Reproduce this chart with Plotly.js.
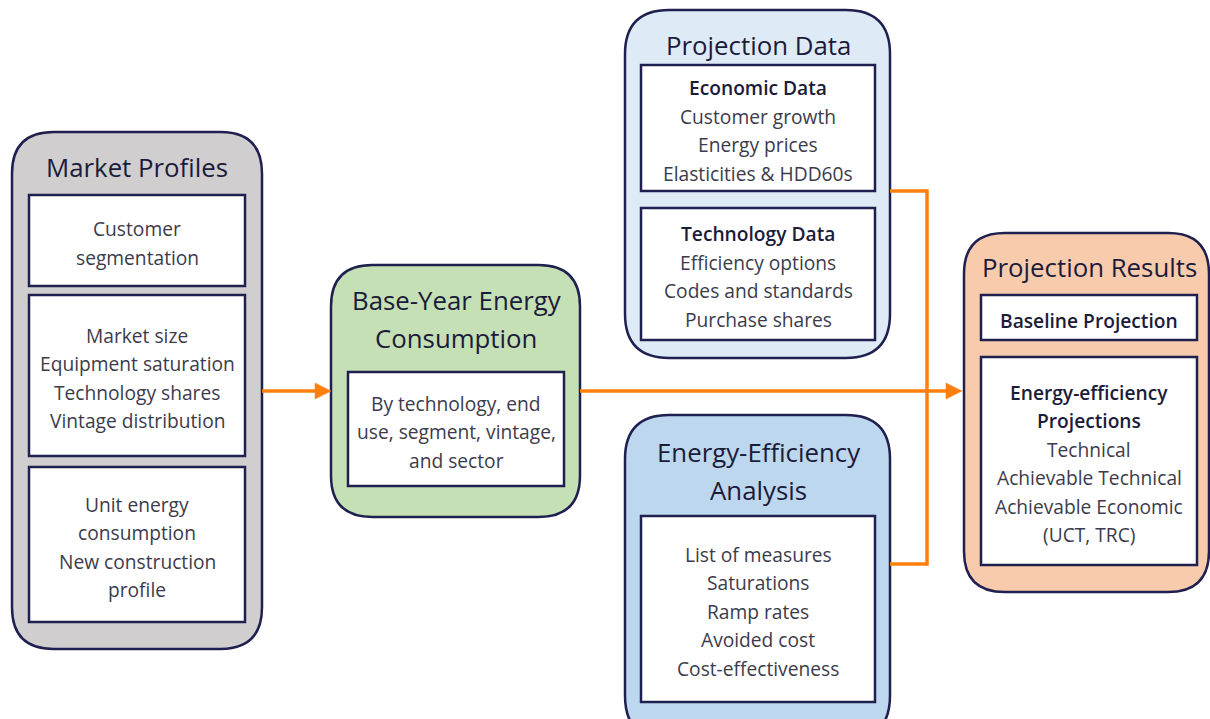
<!DOCTYPE html>
<html>
<head>
<meta charset="utf-8">
<script src="https://cdn.plot.ly/plotly-3.0.1.min.js"></script>
<style>html,body{margin:0;padding:0;background:#fff;}#chart{width:1210px;height:719px;}</style>
</head>
<body>
<div id="chart"></div>
<script>
// ---------- content (text) ----------
const marketTitle = ["Market Profiles"];
const marketItems = [
  ["Customer", "segmentation"],
  ["Market size", "Equipment saturation", "Technology shares", "Vintage distribution"],
  ["Unit energy", "consumption", "New construction", "profile"]
];
const baseTitle = ["Base-Year Energy", "Consumption"];
const baseItems = [["By technology, end", "use, segment, vintage,", "and sector"]];
const projDataTitle = ["Projection Data"];
const projDataHeads = ["Economic Data", "Technology Data"];
const projDataItems = [
  ["Customer growth", "Energy prices", "Elasticities & HDD60s"],
  ["Efficiency options", "Codes and standards", "Purchase shares"]
];
const eeTitle = ["Energy-Efficiency", "Analysis"];
const eeItems = [["List of measures", "Saturations", "Ramp rates", "Avoided cost", "Cost-effectiveness"]];
const resultsTitle = ["Projection Results"];
const resultsHeads = [["Baseline Projection"], ["Energy-efficiency", "Projections"]];
const resultsItems = [[], ["Technical", "Achievable Technical", "Achievable Economic", "(UCT, TRC)"]];

// ---------- styling / geometry ----------
const FONT = "Open Sans, Noto Sans, sans-serif";
const NAVY = "#1f2050";
const TITLE_C = "#1b1b3a";
const BODY_C = "#3b3b4b";
const ORANGE = "#ff7f0e";
const TITLE_SIZE = 25.8;
const BODY_SIZE = 19.2;
const LINE_H = 28.5;
const TITLE_H = 37.5;

const shapes = [];
const annotations = [];

function roundRect(x0, y0, x1, y1, fill) {
  const r = 0.1667 * Math.min(x1 - x0, y1 - y0);
  const p = `M ${x0 + r},${y0} L ${x1 - r},${y0} Q ${x1},${y0} ${x1},${y0 + r} ` +
            `L ${x1},${y1 - r} Q ${x1},${y1} ${x1 - r},${y1} L ${x0 + r},${y1} ` +
            `Q ${x0},${y1} ${x0},${y1 - r} L ${x0},${y0 + r} Q ${x0},${y0} ${x0 + r},${y0} Z`;
  shapes.push({type: "path", xref: "x", yref: "y", path: p, fillcolor: fill,
               line: {color: NAVY, width: 2.5}, layer: "below"});
}
function rect(x0, y0, x1, y1) {
  shapes.push({type: "rect", xref: "x", yref: "y", x0, y0, x1, y1, fillcolor: "#ffffff",
               line: {color: NAVY, width: 2.5}, layer: "below"});
}
function textLine(x, y, t, size, color, weight) {
  annotations.push({x, y, xref: "x", yref: "y", text: t, showarrow: false,
    xanchor: "center", yanchor: "middle",
    font: {family: FONT, size, color, weight: weight || 400}});
}
function titleLines(cx, y0, lines) {
  lines.forEach((t, i) => textLine(cx, y0 + i * TITLE_H, t, TITLE_SIZE, TITLE_C, 400));
}
// lines = array of {t, bold}
function blockLines(cx, cy, lines) {
  const n = lines.length;
  const start = cy - (n - 1) * LINE_H / 2;
  lines.forEach((l, i) => textLine(cx, start + i * LINE_H, l.t, BODY_SIZE,
                                   l.bold ? TITLE_C : BODY_C, l.bold ? 560 : 400));
}
const plain = arr => arr.map(t => ({t, bold: false}));
const heads = arr => arr.map(t => ({t, bold: true}));

// Market Profiles
roundRect(12, 132, 262, 649, "#d0cece");
titleLines(137, 167, marketTitle);
const mpBoxes = [[195, 286], [295, 456], [467, 622]];
mpBoxes.forEach((b, i) => { rect(29, b[0], 245, b[1]); blockLines(137, (b[0] + b[1]) / 2 + 2.5, plain(marketItems[i])); });

// Base-Year
roundRect(331, 265, 580, 517, "#c5e0b4");
titleLines(456, 300, baseTitle);
rect(348, 372, 564, 486);
blockLines(456, 431.5, plain(baseItems[0]));

// Projection Data
roundRect(625, 10, 890, 358, "#deebf7");
titleLines(758, 45, projDataTitle);
const pdBoxes = [[65, 191], [208, 340]];
pdBoxes.forEach((b, i) => { rect(641, b[0], 875, b[1]);
  blockLines(758, (b[0] + b[1]) / 2 + 2.5, heads([projDataHeads[i]]).concat(plain(projDataItems[i]))); });

// Energy-Efficiency Analysis
roundRect(625, 415, 890, 740, "#bdd7ee");
titleLines(758, 452, eeTitle);
rect(641, 516, 875, 702);
blockLines(758, 611, plain(eeItems[0]));

// Projection Results
roundRect(964, 233, 1209, 592, "#f8cbad");
titleLines(1089, 267, resultsTitle);
const prBoxes = [[295, 340], [357, 565]];
prBoxes.forEach((b, i) => { rect(981, b[0], 1197, b[1]);
  blockLines(1089, (b[0] + b[1]) / 2 + 2.5, heads(resultsHeads[i]).concat(plain(resultsItems[i]))); });

// Connectors
function seg(x0, y0, x1, y1) {
  shapes.push({type: "line", xref: "x", yref: "y", x0, y0, x1, y1,
               line: {color: ORANGE, width: 3.5}, layer: "above"});
}
function arrowHead(tipX, y) {
  shapes.push({type: "path", xref: "x", yref: "y",
    path: `M ${tipX},${y} L ${tipX - 16},${y - 8} L ${tipX - 16},${y + 8} Z`,
    fillcolor: ORANGE, line: {color: ORANGE, width: 0.5}, layer: "above"});
}
seg(262, 391, 318, 391); arrowHead(331, 391);
seg(580, 391, 948, 391); arrowHead(962, 391);
seg(890, 191, 927, 191);
seg(890, 564, 927, 564);
seg(927, 189.3, 927, 565.7);

const layout = {
  width: 1210, height: 719,
  margin: {l: 0, r: 0, t: 0, b: 0},
  paper_bgcolor: "#ffffff", plot_bgcolor: "#ffffff",
  xaxis: {range: [0, 1210], visible: false, fixedrange: true},
  yaxis: {range: [719, 0], visible: false, fixedrange: true},
  shapes, annotations, showlegend: false
};
Plotly.newPlot("chart", [], layout, {displayModeBar: false, staticPlot: true});
</script>
</body>
</html>
